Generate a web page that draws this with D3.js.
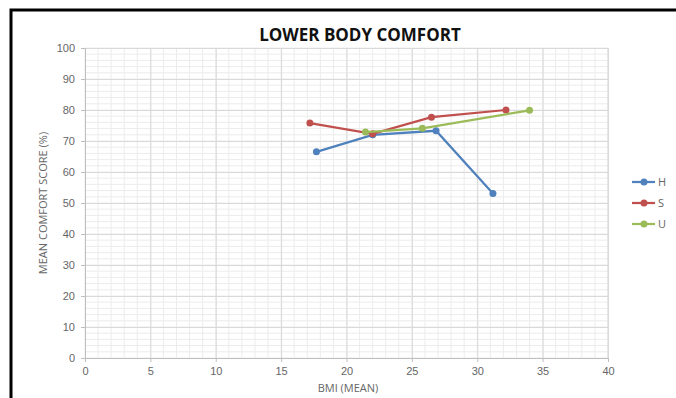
<!DOCTYPE html>
<html>
<head>
<meta charset="utf-8">
<script src="https://cdn.jsdelivr.net/npm/d3@7"></script>
<style>
  body { margin: 0; background: #fff; }
  svg { display: block; font-family: "Open Sans", "Noto Sans", sans-serif; }
</style>
</head>
<body>
<div id="chart-area"></div>
<script>
// data
const seriesNames = ["H", "S", "U"];
const bmiH = [17.7, 22.0, 26.85, 31.2];
const scoreH = [66.5, 72.0, 73.3, 53.1];
const bmiS = [17.2, 22.0, 26.5, 32.2];
const scoreS = [75.8, 72.3, 77.7, 80.0];
const bmiU = [21.45, 25.8, 34.0];
const scoreU = [72.9, 74.1, 79.9];
const xTicks = [0, 5, 10, 15, 20, 25, 30, 35, 40];
const yTicks = [0, 10, 20, 30, 40, 50, 60, 70, 80, 90, 100];

const colours = d3.scaleOrdinal().domain(seriesNames).range(["#4f81bd", "#c0504d", "#9bbb59"]);

const series = [
  {name: "H", pts: bmiH.map((b, i) => ({x: b, y: scoreH[i]}))},
  {name: "S", pts: bmiS.map((b, i) => ({x: b, y: scoreS[i]}))},
  {name: "U", pts: bmiU.map((b, i) => ({x: b, y: scoreU[i]}))}
];

const W = 676, H = 398;
const margin = {top: 48, right: 68, bottom: 40, left: 85},
      width = 608 - margin.left,
      height = 358 - margin.top;

const svg = d3.select("#chart-area")
  .append("svg")
    .attr("width", W)
    .attr("height", H);

// outer frame
svg.append("rect")
  .attr("x", 11).attr("y", 10)
  .attr("width", W + 20).attr("height", H + 20)
  .attr("fill", "none")
  .attr("stroke", "#000")
  .attr("stroke-width", 3);

const g = svg.append("g")
  .attr("transform", `translate(${margin.left},${margin.top})`);

const x = d3.scaleLinear().domain([0, 40]).range([0, width]);
const y = d3.scaleLinear().domain([0, 100]).range([height, 0]);

// minor grid
g.append("g")
  .selectAll("line")
  .data(d3.range(0, 41, 1))
  .join("line")
    .attr("x1", d => x(d)).attr("x2", d => x(d))
    .attr("y1", 0).attr("y2", height)
    .attr("stroke", "#ececec");
g.append("g")
  .selectAll("line")
  .data(d3.range(0, 101, 2))
  .join("line")
    .attr("y1", d => y(d)).attr("y2", d => y(d))
    .attr("x1", 0).attr("x2", width)
    .attr("stroke", "#ececec");

// major grid
g.append("g")
  .attr("class", "grid")
  .call(d3.axisLeft(y).tickValues(yTicks).tickSize(-width).tickFormat(""))
  .call(a => a.select(".domain").remove())
  .call(a => a.selectAll("line").attr("stroke", "#d9d9d9"));
g.append("g")
  .attr("class", "grid")
  .attr("transform", `translate(0,${height})`)
  .call(d3.axisBottom(x).tickValues(xTicks).tickSize(-height).tickFormat(""))
  .call(a => a.select(".domain").remove())
  .call(a => a.selectAll("line").attr("stroke", "#d9d9d9"));

// right edge of plot
g.append("line")
  .attr("x1", width).attr("x2", width)
  .attr("y1", 0).attr("y2", height)
  .attr("stroke", "#d9d9d9");

// axes
g.append("g")
  .call(d3.axisLeft(y).tickValues(yTicks).tickSize(4).tickPadding(6))
  .call(a => a.selectAll("text").attr("fill", "#666").style("font-size", "11px"))
  .call(a => a.selectAll("line, .domain").attr("stroke", "#bfbfbf"));

g.append("g")
  .attr("transform", `translate(0,${height})`)
  .call(d3.axisBottom(x).tickValues(xTicks).tickSize(4).tickPadding(5))
  .call(a => a.selectAll("text").attr("fill", "#666").style("font-size", "11px"))
  .call(a => a.selectAll("line, .domain").attr("stroke", "#bfbfbf"));

// lines and markers
const line = d3.line().x(d => x(d.x)).y(d => y(d.y));

series.forEach(s => {
  g.append("path")
    .datum(s.pts)
    .attr("d", line)
    .attr("fill", "none")
    .attr("stroke", colours(s.name))
    .attr("stroke-width", 2.25);
  g.selectAll(null)
    .data(s.pts)
    .join("circle")
      .attr("cx", d => x(d.x))
      .attr("cy", d => y(d.y))
      .attr("r", 3.5)
      .attr("fill", colours(s.name));
});

// title
svg.append("text")
  .attr("x", 360).attr("y", 41)
  .attr("text-anchor", "middle")
  .style("font-size", "17px")
  .style("font-weight", "bold")
  .attr("fill", "#111")
  .text("LOWER BODY COMFORT");

// axis titles
svg.append("text")
  .attr("x", 348).attr("y", 392)
  .attr("text-anchor", "middle")
  .style("font-size", "11px")
  .attr("fill", "#666")
  .text("BMI (MEAN)");

svg.append("text")
  .attr("transform", `translate(47,${margin.top + height / 2}) rotate(-90)`)
  .attr("text-anchor", "middle")
  .style("font-size", "11px")
  .attr("fill", "#666")
  .text("MEAN  COMFORT SCORE (%)");

// legend
const legend = svg.append("g").attr("transform", "translate(632,182)");
seriesNames.forEach((name, i) => {
  const row = legend.append("g").attr("transform", `translate(0,${i * 21})`);
  row.append("line")
    .attr("x1", 0).attr("x2", 23)
    .attr("stroke", colours(name))
    .attr("stroke-width", 2.25);
  row.append("circle")
    .attr("cx", 12).attr("r", 3.5)
    .attr("fill", colours(name));
  row.append("text")
    .attr("x", 26).attr("y", 4)
    .style("font-size", "11px")
    .attr("fill", "#666")
    .text(name);
});
</script>
</body>
</html>
